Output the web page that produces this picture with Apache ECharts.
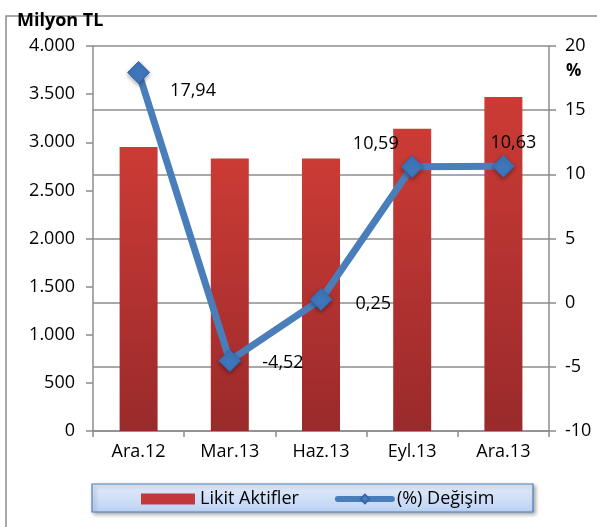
<!DOCTYPE html>
<html><head><meta charset="utf-8">
<script src="https://cdn.jsdelivr.net/npm/echarts@6/dist/echarts.min.js"></script>
<style>html,body{margin:0;padding:0;background:#fff}#c{width:597px;height:527px}</style>
</head><body><div id="c"></div>
<script>
const categories = ['Ara.12', 'Mar.13', 'Haz.13', 'Eyl.13', 'Ara.13'];
const likitAktifler = [2950, 2830, 2830, 3140, 3470];
const degisim = [17.94, -4.52, 0.25, 10.59, 10.63];
const leftTicks = ['0', '500', '1.000', '1.500', '2.000', '2.500', '3.000', '3.500', '4.000'];

const font = '"Open Sans", "Noto Sans", sans-serif';
// label placement per point: [position, offsetX, offsetY]
const labelPlace = [['right', 15, 18], ['right', 16, 2], ['right', 18, 4], ['left', 3, -23], ['inside', 10, -23]];

const chart = echarts.init(document.getElementById('c'));
chart.setOption({
  animation: false,
  textStyle: { fontFamily: font },
  graphic: [
    { type: 'rect', shape: { x: 6, y: 16, width: 600, height: 520 }, style: { fill: 'none', stroke: '#8c8c8c', lineWidth: 1.5 }, z: -10 },
    { type: 'rect', shape: { x: 92, y: 484, width: 441, height: 28 }, style: { fill: new echarts.graphic.LinearGradient(0, 0, 0, 1, [{ offset: 0, color: '#e4edfb' }, { offset: 1, color: '#bcd2f4' }]), stroke: '#4f81bd', lineWidth: 1.2, shadowBlur: 4, shadowColor: 'rgba(0,0,0,0.35)', shadowOffsetX: 2, shadowOffsetY: 2 }, z: -5 },
    { type: 'text', left: 17, top: 12, style: { text: 'Milyon TL', fontFamily: font, fontSize: 18, fontWeight: 'bold', fill: '#000' } },
    { type: 'text', left: 566, top: 63, style: { text: '%', fontFamily: font, fontSize: 17, fontWeight: 'bold', fill: '#000' } }
  ],
  grid: { left: 93, right: 48, top: 46, bottom: 96, containLabel: false },
  legend: {
    bottom: 14, left: 136, itemGap: 36, itemWidth: 54, itemHeight: 11,
    textStyle: { fontFamily: font, fontSize: 18, color: '#000' },
    data: [
      { name: 'Likit Aktifler', icon: 'rect', itemStyle: { color: '#c0393a' } },
      { name: '(%) Değişim', itemStyle: { color: '#4a7ebb' }, lineStyle: { width: 6, color: '#4a7ebb', cap: 'round' } }
    ]
  },
  xAxis: {
    type: 'category', data: categories,
    axisLine: { lineStyle: { color: '#8c8c8c', width: 1.5 } },
    axisTick: { show: true, length: 6, lineStyle: { color: '#8c8c8c', width: 1.5 } },
    axisLabel: { color: '#000', fontSize: 18, margin: 12, fontFamily: font }
  },
  yAxis: [
    {
      type: 'value', min: 0, max: 4000, interval: 500, position: 'left',
      axisLine: { show: true, lineStyle: { color: '#8c8c8c', width: 1.5 } },
      axisTick: { show: true, length: 7, lineStyle: { color: '#8c8c8c', width: 1.5 } },
      splitLine: { show: false },
      axisLabel: { color: '#000', fontSize: 18, margin: 18, fontFamily: font, formatter: (v) => leftTicks[Math.round(v / 500)] }
    },
    {
      type: 'value', min: -10, max: 20, interval: 5, position: 'right',
      axisLine: { show: true, lineStyle: { color: '#8c8c8c', width: 1.5 } },
      axisTick: { show: true, length: 7, lineStyle: { color: '#8c8c8c', width: 1.5 } },
      splitLine: { show: true, lineStyle: { color: '#8c8c8c', width: 1.5 } },
      axisLabel: { color: '#000', fontSize: 18, margin: 16, fontFamily: font }
    }
  ],
  series: [
    {
      name: 'Likit Aktifler', type: 'bar', data: likitAktifler, barWidth: 38, yAxisIndex: 0,
      itemStyle: { color: new echarts.graphic.LinearGradient(0, 0, 0, 1, [{ offset: 0, color: '#cc3b35' }, { offset: 1, color: '#9a2a2b' }]) }
    },
    {
      name: '(%) Değişim', type: 'line', yAxisIndex: 1, z: 5,
      data: degisim.map((v, i) => ({
        value: v,
        label: {
          show: true, position: labelPlace[i][0], offset: [labelPlace[i][1], labelPlace[i][2]],
          align: labelPlace[i][0] === 'right' ? 'left' : (labelPlace[i][0] === 'left' ? 'right' : 'center')
        }
      })),
      symbol: 'diamond', symbolSize: 22,
      lineStyle: { color: '#4a7ebb', width: 7 },
      itemStyle: { color: '#3f77bd', borderColor: '#3566a8', borderWidth: 1, shadowBlur: 4, shadowColor: 'rgba(0,0,0,0.35)', shadowOffsetY: 2 },
      label: { color: '#000', fontSize: 18, fontFamily: font, formatter: (p) => p.value.toFixed(2).replace('.', ',') }
    }
  ]
});
</script></body></html>
